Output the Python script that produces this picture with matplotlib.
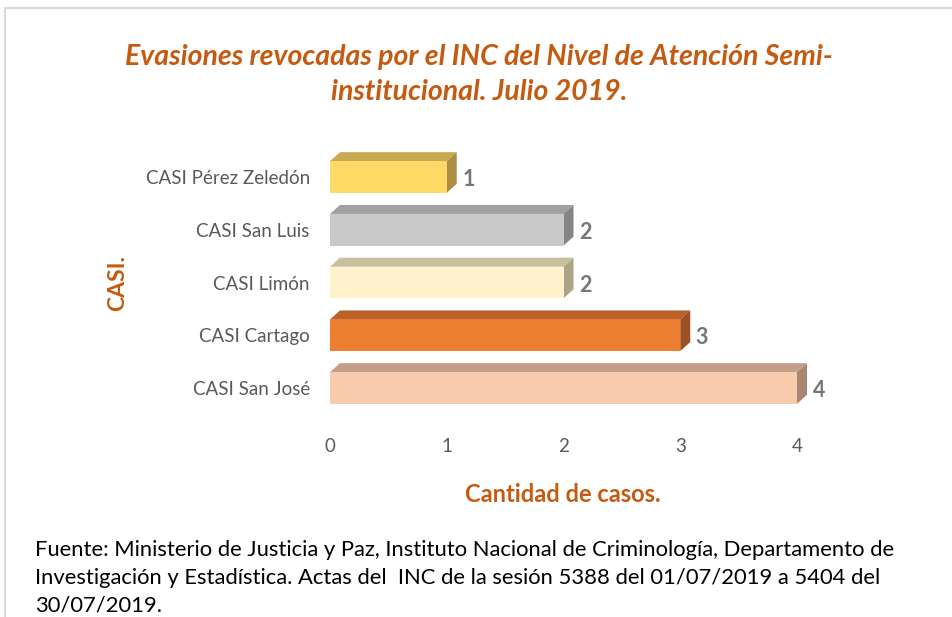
import matplotlib
matplotlib.use("Agg")
import matplotlib.pyplot as plt
from matplotlib.patches import Rectangle, Polygon

categories = ["CASI San José", "CASI Cartago", "CASI Limón", "CASI San Luis", "CASI Pérez Zeledón"]
values = [4, 3, 2, 2, 1]
front_colors = ["#F8CBAD", "#ED7D31", "#FFF2CC", "#C9C9C9", "#FFD966"]
top_colors = ["#C49E86", "#B9622A", "#C9BF9F", "#A0A0A0", "#C8AA52"]
side_colors = ["#A88672", "#9E5122", "#ADA486", "#858585", "#AA8F43"]
xticks = [0, 1, 2, 3, 4]

title_lines = ["Evasiones revocadas por el INC del Nivel de Atención Semi-",
               "institucional. Julio 2019."]
xlabel = "Cantidad de casos."
ylabel = "CASI."
source_lines = ["Fuente: Ministerio de Justicia y Paz, Instituto Nacional de Criminología, Departamento de",
                "Investigación y Estadística. Actas del  INC de la sesión 5388 del 01/07/2019 a 5404 del",
                "30/07/2019."]

FONT = "Lato"
plt.rcParams["font.family"] = [FONT, "DejaVu Sans"]

W, H = 952, 617
fig = plt.figure(figsize=(W / 100, H / 100), dpi=100)
fig.patch.set_facecolor("white")

# chart frame
fig.patches.append(Rectangle((5 / W, -0.1), 1.2, (H - 8) / H + 0.1, transform=fig.transFigure,
                             fill=False, edgecolor="#D9D9D9", linewidth=1.5))

left, right_px = 330, 820
ymin, ymax = -0.6, 4.6
px_per_y = 52.75
bottom_px = 388 + 0.6 * px_per_y
top_px = 177 - 0.6 * px_per_y
ax = fig.add_axes([left / W, 1 - bottom_px / H, (right_px - left) / W, (bottom_px - top_px) / H])
ax.set_xlim(0, (right_px - left) / 116.75)
ax.set_ylim(ymin, ymax)
for s in ax.spines.values():
    s.set_visible(False)

bh = 0.6
dx = 10 / 116.75
dy = 9 / px_per_y
ypos = list(range(len(categories)))
ax.barh(ypos, values, height=bh, color=front_colors, zorder=3)
for y, v, tc, sc in zip(ypos, values, top_colors, side_colors):
    top = Polygon([(0, y + bh / 2), (v, y + bh / 2), (v + dx, y + bh / 2 + dy), (dx, y + bh / 2 + dy)],
                  closed=True, facecolor=tc, edgecolor="none", zorder=2)
    side = Polygon([(v, y - bh / 2), (v + dx, y - bh / 2 + dy), (v + dx, y + bh / 2 + dy), (v, y + bh / 2)],
                   closed=True, facecolor=sc, edgecolor="none", zorder=2)
    ax.add_patch(top)
    ax.add_patch(side)
    ax.annotate(str(v), (v + dx, y - 0.05), xytext=(4, 0), textcoords="offset points",
                ha="left", va="center", fontsize=15.5, fontweight="bold", color="#767676")

ax.set_yticks(ypos)
ax.set_yticklabels(categories, fontsize=13.5, color="#595959")
ax.set_xticks(xticks)
ax.set_xticklabels([str(t) for t in xticks], fontsize=13.5, color="#595959")
ax.tick_params(axis="both", length=0)
ax.tick_params(axis="x", pad=13)
ax.tick_params(axis="y", pad=14.5)

for i, line in enumerate(title_lines):
    fig.text(479 / W, 1 - (57 + 35 * i) / H, line, ha="center", va="center", fontsize=20.5,
             fontweight="bold", fontstyle="italic", color="#C55A11")
fig.text(563 / W, 1 - 494 / H, xlabel, ha="center", va="center", fontsize=17,
         fontweight="bold", color="#C55A11")
fig.text(118 / W, 1 - 283 / H, ylabel, ha="center", va="center", fontsize=16.5, rotation=90,
         fontweight="bold", color="#C55A11")
for i, line in enumerate(source_lines):
    fig.text(35 / W, 1 - (550 + 27.5 * i) / H, line, ha="left", va="center", fontsize=15.8,
             color="black")

fig.savefig("out.png", dpi=100)
